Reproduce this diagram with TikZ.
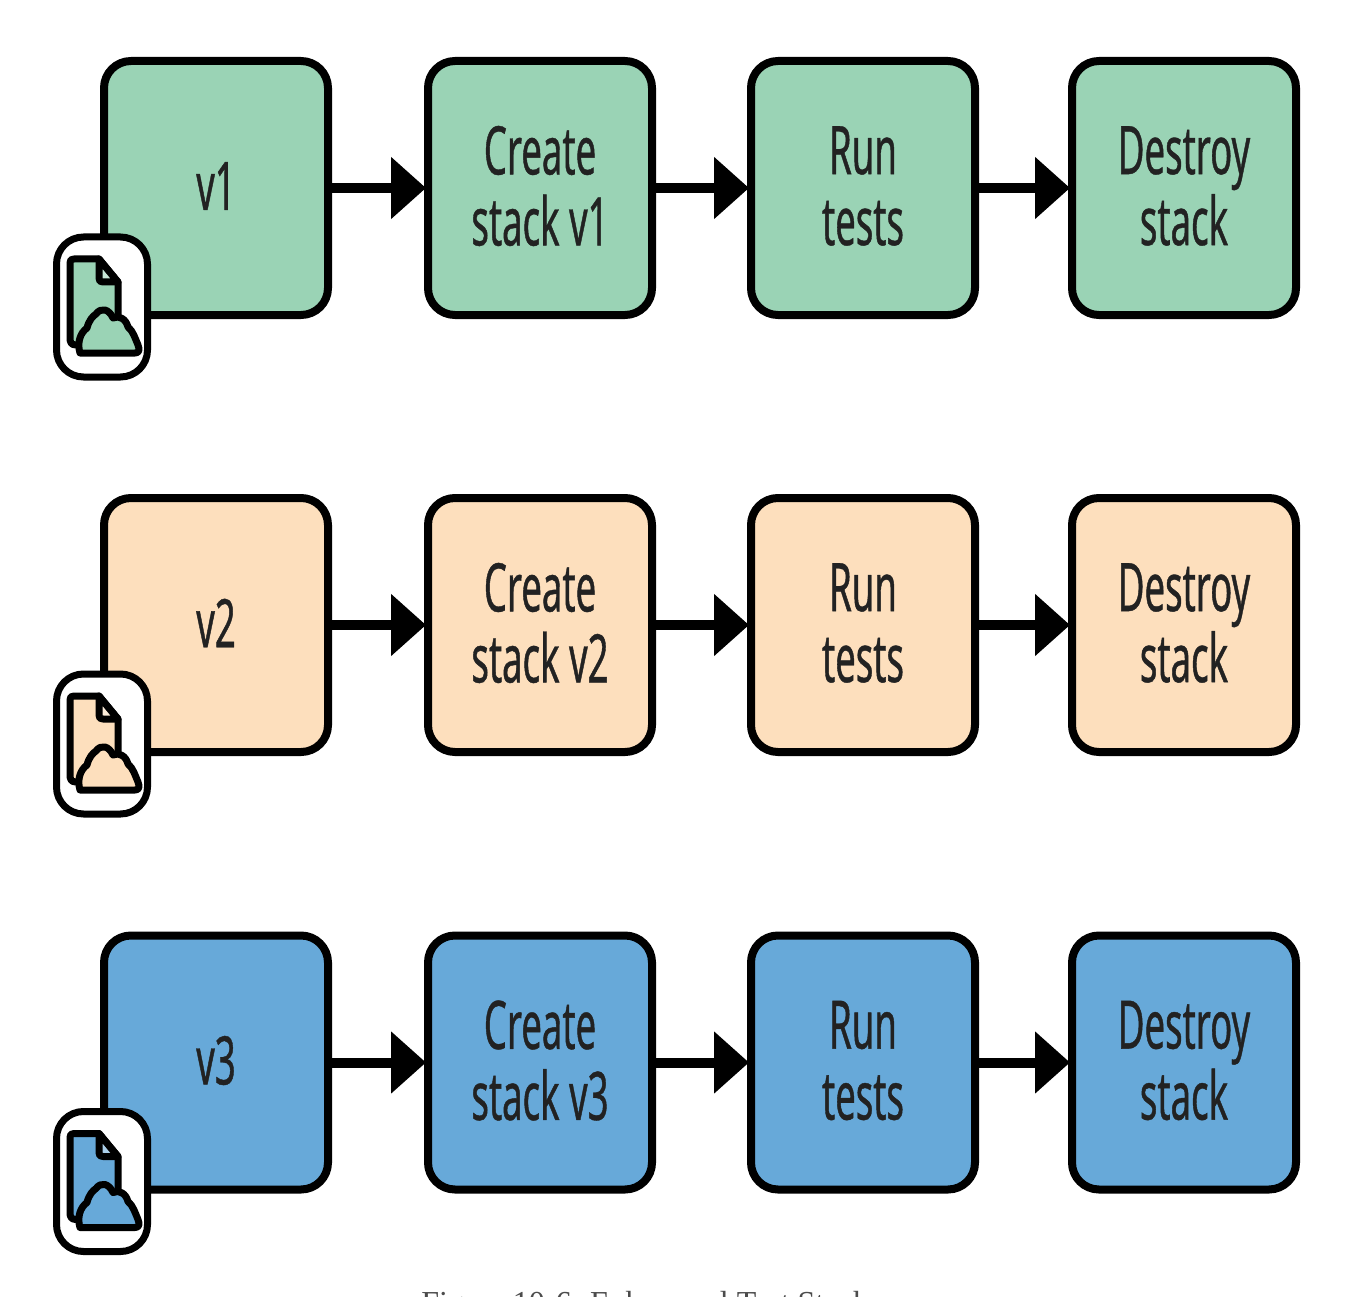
\documentclass[tikz,border=0pt]{standalone}
\usepackage{fontspec}
\usetikzlibrary{arrows.meta}
\newfontfamily\boxfont[FakeStretch=0.545,FakeBold=0.6]{Noto Sans}
\newfontfamily\capfont{Liberation Serif}
\definecolor{cgreen}{HTML}{9AD3B5}
\definecolor{corange}{HTML}{FDDFBD}
\definecolor{cblue}{HTML}{67A9D9}
\definecolor{ink}{HTML}{222222}
\newcommand{\liftline}[1]{\raisebox{2pt}[\height][\depth]{#1}}
\tikzset{
  stepbox/.style={draw=black,line width=8pt,rounded corners=27pt,minimum width=224pt,minimum height=254pt,inner sep=0pt,
    align=center,text=ink,font=\boxfont\fontsize{67pt}{71pt}\selectfont},
  flowarrow/.style={line width=10pt,-{Triangle[length=35pt,width=60pt]},shorten >=-2pt,shorten <=-3pt},
  iconframe/.style={draw=black,fill=white,line width=7pt,rounded corners=27pt,minimum width=91pt,minimum height=140pt,inner sep=0pt},
  iconline/.style={draw=black,line width=7pt,line join=round,line cap=round},
}
\newcommand{\flowrow}[4]{%
  % #1 key, #2 colour, #3 version, #4 y of row centre
  \node[stepbox,fill=#2] (#1a) at (216,#4) {\liftline{#3}};
  \node[stepbox,fill=#2] (#1b) at (540,#4) {\liftline{Create}\\\liftline{stack #3}};
  \node[stepbox,fill=#2] (#1c) at (863,#4) {\liftline{Run}\\\liftline{tests}};
  \node[stepbox,fill=#2] (#1d) at (1184,#4) {\liftline{Destroy}\\\liftline{stack}};
  \draw[flowarrow] (#1a.east) -- (#1b.west);
  \draw[flowarrow] (#1b.east) -- (#1c.west);
  \draw[flowarrow] (#1c.east) -- (#1d.west);
  \begin{scope}[shift={(0,#4-188)}]
    \node[iconframe] (#1i) at (102,307) {};
    \path[iconline,fill=#2] (74,259) -- (99,259) -- (118,282) -- (118,330) -- (118,345) -- (76,345)
       .. controls (71,345) and (70,342) .. (70,338) -- (70,263) .. controls (70,260) and (71,259) .. (74,259) -- cycle;
    \path[iconline,fill=white,fill opacity=0.45] (99,259) -- (99,278) .. controls (99,281) and (100,282) .. (103,282) -- (118,282) -- cycle;
    \path[iconline,fill=#2] (80,353) .. controls (77,343) and (80,333) .. (87,328)
       .. controls (89,320) and (93,316) .. (96,314) .. controls (101,307) and (109,309) .. (113,318)
       .. controls (119,315) and (126,319) .. (128,327) .. controls (133,331) and (135,338) .. (138,345)
       .. controls (140,350) and (139,353) .. (135,353) -- cycle;
  \end{scope}
}
\begin{document}
\begin{tikzpicture}[x=1pt,y=-1pt]
  \clip (0,0) rectangle (1354,1297);
  \fill[white] (0,0) rectangle (1354,1297);
  \flowrow{p}{cgreen}{v1}{188}
  \flowrow{q}{corange}{v2}{625}
  \flowrow{r}{cblue}{v3}{1062.5}
  \node[anchor=base,text=black!70,font=\capfont\fontsize{32pt}{34pt}\selectfont] (caption) at (645,1313) {Figure 10-6. Ephemeral Test Stack};
\end{tikzpicture}
\end{document}
